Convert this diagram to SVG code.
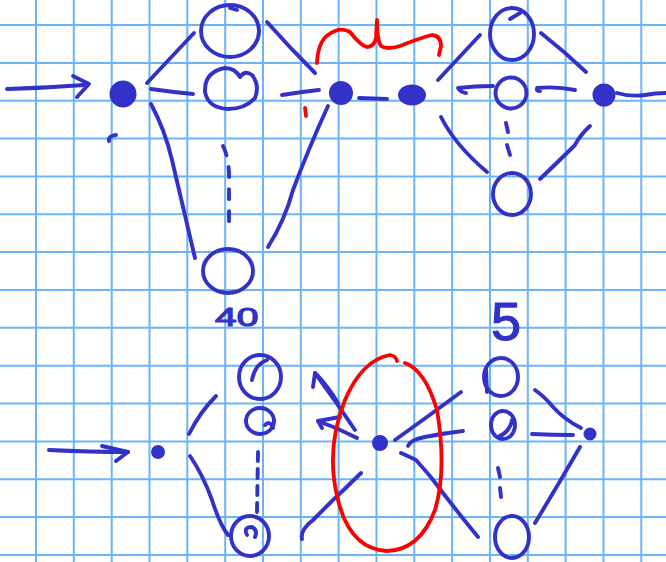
<svg xmlns="http://www.w3.org/2000/svg" width="666" height="562" viewBox="0 0 666 562">
<style>
.grid line{stroke:#6cb4f8;stroke-width:2}
.ink{fill:none;stroke:#3232c8;stroke-width:3.9;stroke-linecap:round;stroke-linejoin:round}
.dot{fill:#3232c8;stroke:#3232c8;stroke-width:2}
.red{fill:none;stroke:#f00;stroke-width:3.8;stroke-linecap:round;stroke-linejoin:round}
.lbl{fill:#3232c8;stroke:#3232c8;stroke-width:1.2;stroke-linejoin:round;font-family:"Liberation Sans",Arial,sans-serif}
</style>
<rect width="666" height="562" fill="#fff"/>
<g class="grid">
<line x1="36" y1="0" x2="36" y2="562"/><line x1="73.8" y1="0" x2="73.8" y2="562"/><line x1="111.7" y1="0" x2="111.7" y2="562"/><line x1="149.5" y1="0" x2="149.5" y2="562"/><line x1="187.3" y1="0" x2="187.3" y2="562"/><line x1="225.2" y1="0" x2="225.2" y2="562"/><line x1="263" y1="0" x2="263" y2="562"/><line x1="300.8" y1="0" x2="300.8" y2="562"/><line x1="338.6" y1="0" x2="338.6" y2="562"/><line x1="376.5" y1="0" x2="376.5" y2="562"/><line x1="414.3" y1="0" x2="414.3" y2="562"/><line x1="452.1" y1="0" x2="452.1" y2="562"/><line x1="490" y1="0" x2="490" y2="562"/><line x1="527.8" y1="0" x2="527.8" y2="562"/><line x1="565.6" y1="0" x2="565.6" y2="562"/><line x1="603.5" y1="0" x2="603.5" y2="562"/><line x1="641.3" y1="0" x2="641.3" y2="562"/>
<line x1="0" y1="25" x2="666" y2="25"/><line x1="0" y1="62.9" x2="666" y2="62.9"/><line x1="0" y1="100.7" x2="666" y2="100.7"/><line x1="0" y1="138.6" x2="666" y2="138.6"/><line x1="0" y1="176.4" x2="666" y2="176.4"/><line x1="0" y1="214.3" x2="666" y2="214.3"/><line x1="0" y1="252.1" x2="666" y2="252.1"/><line x1="0" y1="290" x2="666" y2="290"/><line x1="0" y1="327.8" x2="666" y2="327.8"/><line x1="0" y1="365.7" x2="666" y2="365.7"/><line x1="0" y1="403.5" x2="666" y2="403.5"/><line x1="0" y1="441.4" x2="666" y2="441.4"/><line x1="0" y1="479.2" x2="666" y2="479.2"/><line x1="0" y1="517.1" x2="666" y2="517.1"/><line x1="0" y1="554.9" x2="666" y2="554.9"/>
</g>
<g id="connectors" class="ink">
<path d="M7,89 Q45,88 84,85"/>
<path d="M73,76 L89,84 L77,97"/>
<path d="M147,83 L194,33"/>
<path d="M151,89 Q172,92 193,94"/>
<path d="M151,104 Q165,130 172,160 Q185,215 195,258"/>
<path d="M223,146 Q230,160 229,185 L229,222" stroke-dasharray="10 12"/>
<path d="M267,22 Q290,48 315,73"/>
<path d="M282,95 Q300,92 319,90"/>
<path d="M268,247 Q285,220 293,190 Q310,145 328,106"/>
<path d="M359,98 L387,99"/>
<path d="M438,80 L480,35"/>
<path d="M541,33 Q565,52 586,72"/>
<path d="M493,86 Q475,86 458,88 Q460,92 466,93"/>
<path d="M575,90 Q556,86 537,88 Q536,91 540,91"/>
<path d="M506,123 L508,132 M507,145 L510,155"/>
<path d="M441,117 Q455,145 487,172"/>
<path d="M540,179 Q560,160 575,145 Q580,135 590,126"/>
<path d="M617,93 Q630,97 645,95 Q655,93 666,93"/>
<path d="M49,450 Q90,452 128,452"/>
<path d="M102,446 L128,452 L116,461"/>
<path d="M189,434 Q200,412 216,396"/>
<path d="M190,456 Q203,475 212,500 Q220,525 228,535"/>
<path d="M258,452 L257,512" stroke-dasharray="9 8"/>
<path d="M302,539 Q300,530 313,520 Q325,508 333,500 Q347,487 361,473"/>
<path d="M355,430 Q335,400 315,373"/>
<path d="M313,387 L315,373 Q327,385 338,403"/>
<path d="M357,438 Q338,428 318,421"/>
<path d="M322,428 L318,421 L340,417"/>
<path d="M395,440 Q430,415 461,392"/>
<path d="M408,446 Q410,440 425,437 Q445,433 463,431"/>
<path d="M401,453 Q410,457 416,460 Q430,475 443,493 Q460,515 478,537"/>
<path d="M535,390 Q545,397 553,407 Q565,420 581,428"/>
<path d="M532,434 Q553,435 573,435"/>
<path d="M580,447 Q558,485 535,523"/>
<path d="M498,468 L500,477 M500,488 L501,497"/>
</g>
<g id="red-marks" class="red">
<path d="M317,63 Q318,42 328,35 Q340,26 350,32 Q360,45 367,47 Q374,47 376,38 L377,20 Q377,40 381,46 Q387,50 400,46 Q420,38 432,35 Q441,36 441,46 L439,55"/>
<path d="M305,108 L306,116"/>
<path d="M405,363 Q425,370 437,410 Q447,470 435,510 Q420,550 387,551 Q350,549 338,500 Q325,450 345,400 Q362,360 390,355 Q396,356 397,361"/>
</g>
<g id="n-start-top"><circle class="dot" cx="123" cy="94" r="12.5"/><path class="ink" d="M109,141 Q108,136 116,135"/></g>
<g id="n-top1"><ellipse class="ink" cx="230" cy="31" rx="29" ry="26"/><path class="ink" d="M230,8 L237,10"/></g>
<g id="n-mid1"><path class="ink" d="M240,77 Q245,70 252,75 Q260,85 255,98 Q245,109 228,109 Q208,108 205,92 Q204,72 225,68 Q235,68 240,77"/></g>
<g id="n-bot1"><ellipse class="ink" cx="228" cy="271" rx="25" ry="22"/><text class="lbl" transform="translate(215,326) scale(1.5,1)" font-size="26">40</text></g>
<g id="n-join1"><circle class="dot" cx="341" cy="93" r="11"/></g>
<g id="n-join2"><ellipse class="dot" cx="412" cy="95" rx="13" ry="9.5"/></g>
<g id="n-top2"><ellipse class="ink" cx="512" cy="34" rx="22" ry="26"/><path class="ink" d="M510,19 L520,13"/></g>
<g id="n-mid2"><circle class="ink" cx="511" cy="93" r="15.5"/></g>
<g id="n-bot2"><ellipse class="ink" cx="512" cy="194" rx="19" ry="21"/></g>
<g id="n-end-top"><circle class="dot" cx="604" cy="95" r="10.5"/></g>
<g id="n-start-bot"><circle class="dot" cx="158" cy="452" r="6"/></g>
<g id="n-top3"><ellipse class="ink" cx="260" cy="377" rx="21" ry="22"/><path class="ink" d="M252,380 Q255,364 267,360"/></g>
<g id="n-mid3"><ellipse class="ink" cx="260" cy="421" rx="14" ry="13"/><path class="ink" d="M265,425 Q270,420 273,428"/></g>
<g id="n-bot3"><ellipse class="ink" cx="250" cy="536" rx="19" ry="20"/><path class="ink" d="M247,535 Q243,527 252,527 Q258,530 255,537"/></g>
<g id="n-centre"><circle class="dot" cx="380" cy="443" r="7"/></g>
<g id="n-top4"><ellipse class="ink" cx="501" cy="377" rx="17" ry="19"/><path class="ink" d="M486,368 L487,392"/><text class="lbl" x="491" y="340" font-size="54">5</text></g>
<g id="n-mid4"><ellipse class="ink" cx="503" cy="425" rx="12" ry="14"/><path class="ink" d="M498,437 Q510,432 512,420"/></g>
<g id="n-bot4"><ellipse class="ink" cx="512" cy="537" rx="17" ry="21"/></g>
<g id="n-end-bot"><circle class="dot" cx="590" cy="434" r="5.5"/></g>
</svg>
